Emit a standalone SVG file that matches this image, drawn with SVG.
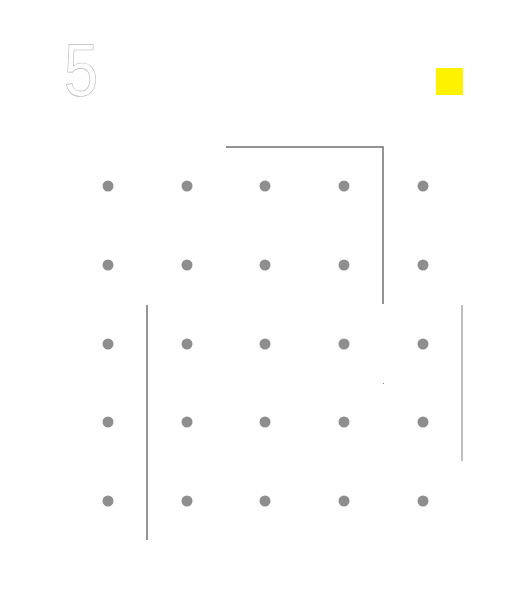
<svg xmlns="http://www.w3.org/2000/svg" width="531" height="610" viewBox="0 0 531 610">
<style>
.dot{fill:#8e8e8e}
.ln{stroke:#707070;stroke-width:1.5;fill:none}
.num{font-family:"Liberation Sans",Arial,sans-serif;font-size:75px;fill:#fff;stroke:#b8b8b8;stroke-width:0.7}
</style>
<rect width="531" height="610" fill="#fff"/>
<g id="title"><text class="num" x="0" y="96" transform="translate(64 0) scale(0.82 1)">5</text></g>
<g id="marker"><rect x="436" y="68" width="27" height="27" fill="#fff200"/></g>
<g id="connectors">
<polyline class="ln" points="226,147 383,147 383,304"/>
<line class="ln" x1="147" y1="305" x2="147" y2="540"/>
<line class="ln" x1="462" y1="305" x2="462" y2="461" style="stroke:#a8a8a8"/>
<rect x="383" y="383" width="1" height="1" fill="#888"/>
</g>
<g id="dots">
<g id="r1"><circle class="dot" cx="108" cy="186" r="5.5"/><circle class="dot" cx="187" cy="186" r="5.5"/><circle class="dot" cx="265" cy="186" r="5.5"/><circle class="dot" cx="344" cy="186" r="5.5"/><circle class="dot" cx="423" cy="186" r="5.5"/></g>
<g id="r2"><circle class="dot" cx="108" cy="265" r="5.5"/><circle class="dot" cx="187" cy="265" r="5.5"/><circle class="dot" cx="265" cy="265" r="5.5"/><circle class="dot" cx="344" cy="265" r="5.5"/><circle class="dot" cx="423" cy="265" r="5.5"/></g>
<g id="r3"><circle class="dot" cx="108" cy="344" r="5.5"/><circle class="dot" cx="187" cy="344" r="5.5"/><circle class="dot" cx="265" cy="344" r="5.5"/><circle class="dot" cx="344" cy="344" r="5.5"/><circle class="dot" cx="423" cy="344" r="5.5"/></g>
<g id="r4"><circle class="dot" cx="108" cy="422" r="5.5"/><circle class="dot" cx="187" cy="422" r="5.5"/><circle class="dot" cx="265" cy="422" r="5.5"/><circle class="dot" cx="344" cy="422" r="5.5"/><circle class="dot" cx="423" cy="422" r="5.5"/></g>
<g id="r5"><circle class="dot" cx="108" cy="501" r="5.5"/><circle class="dot" cx="187" cy="501" r="5.5"/><circle class="dot" cx="265" cy="501" r="5.5"/><circle class="dot" cx="344" cy="501" r="5.5"/><circle class="dot" cx="423" cy="501" r="5.5"/></g>
</g>
</svg>
